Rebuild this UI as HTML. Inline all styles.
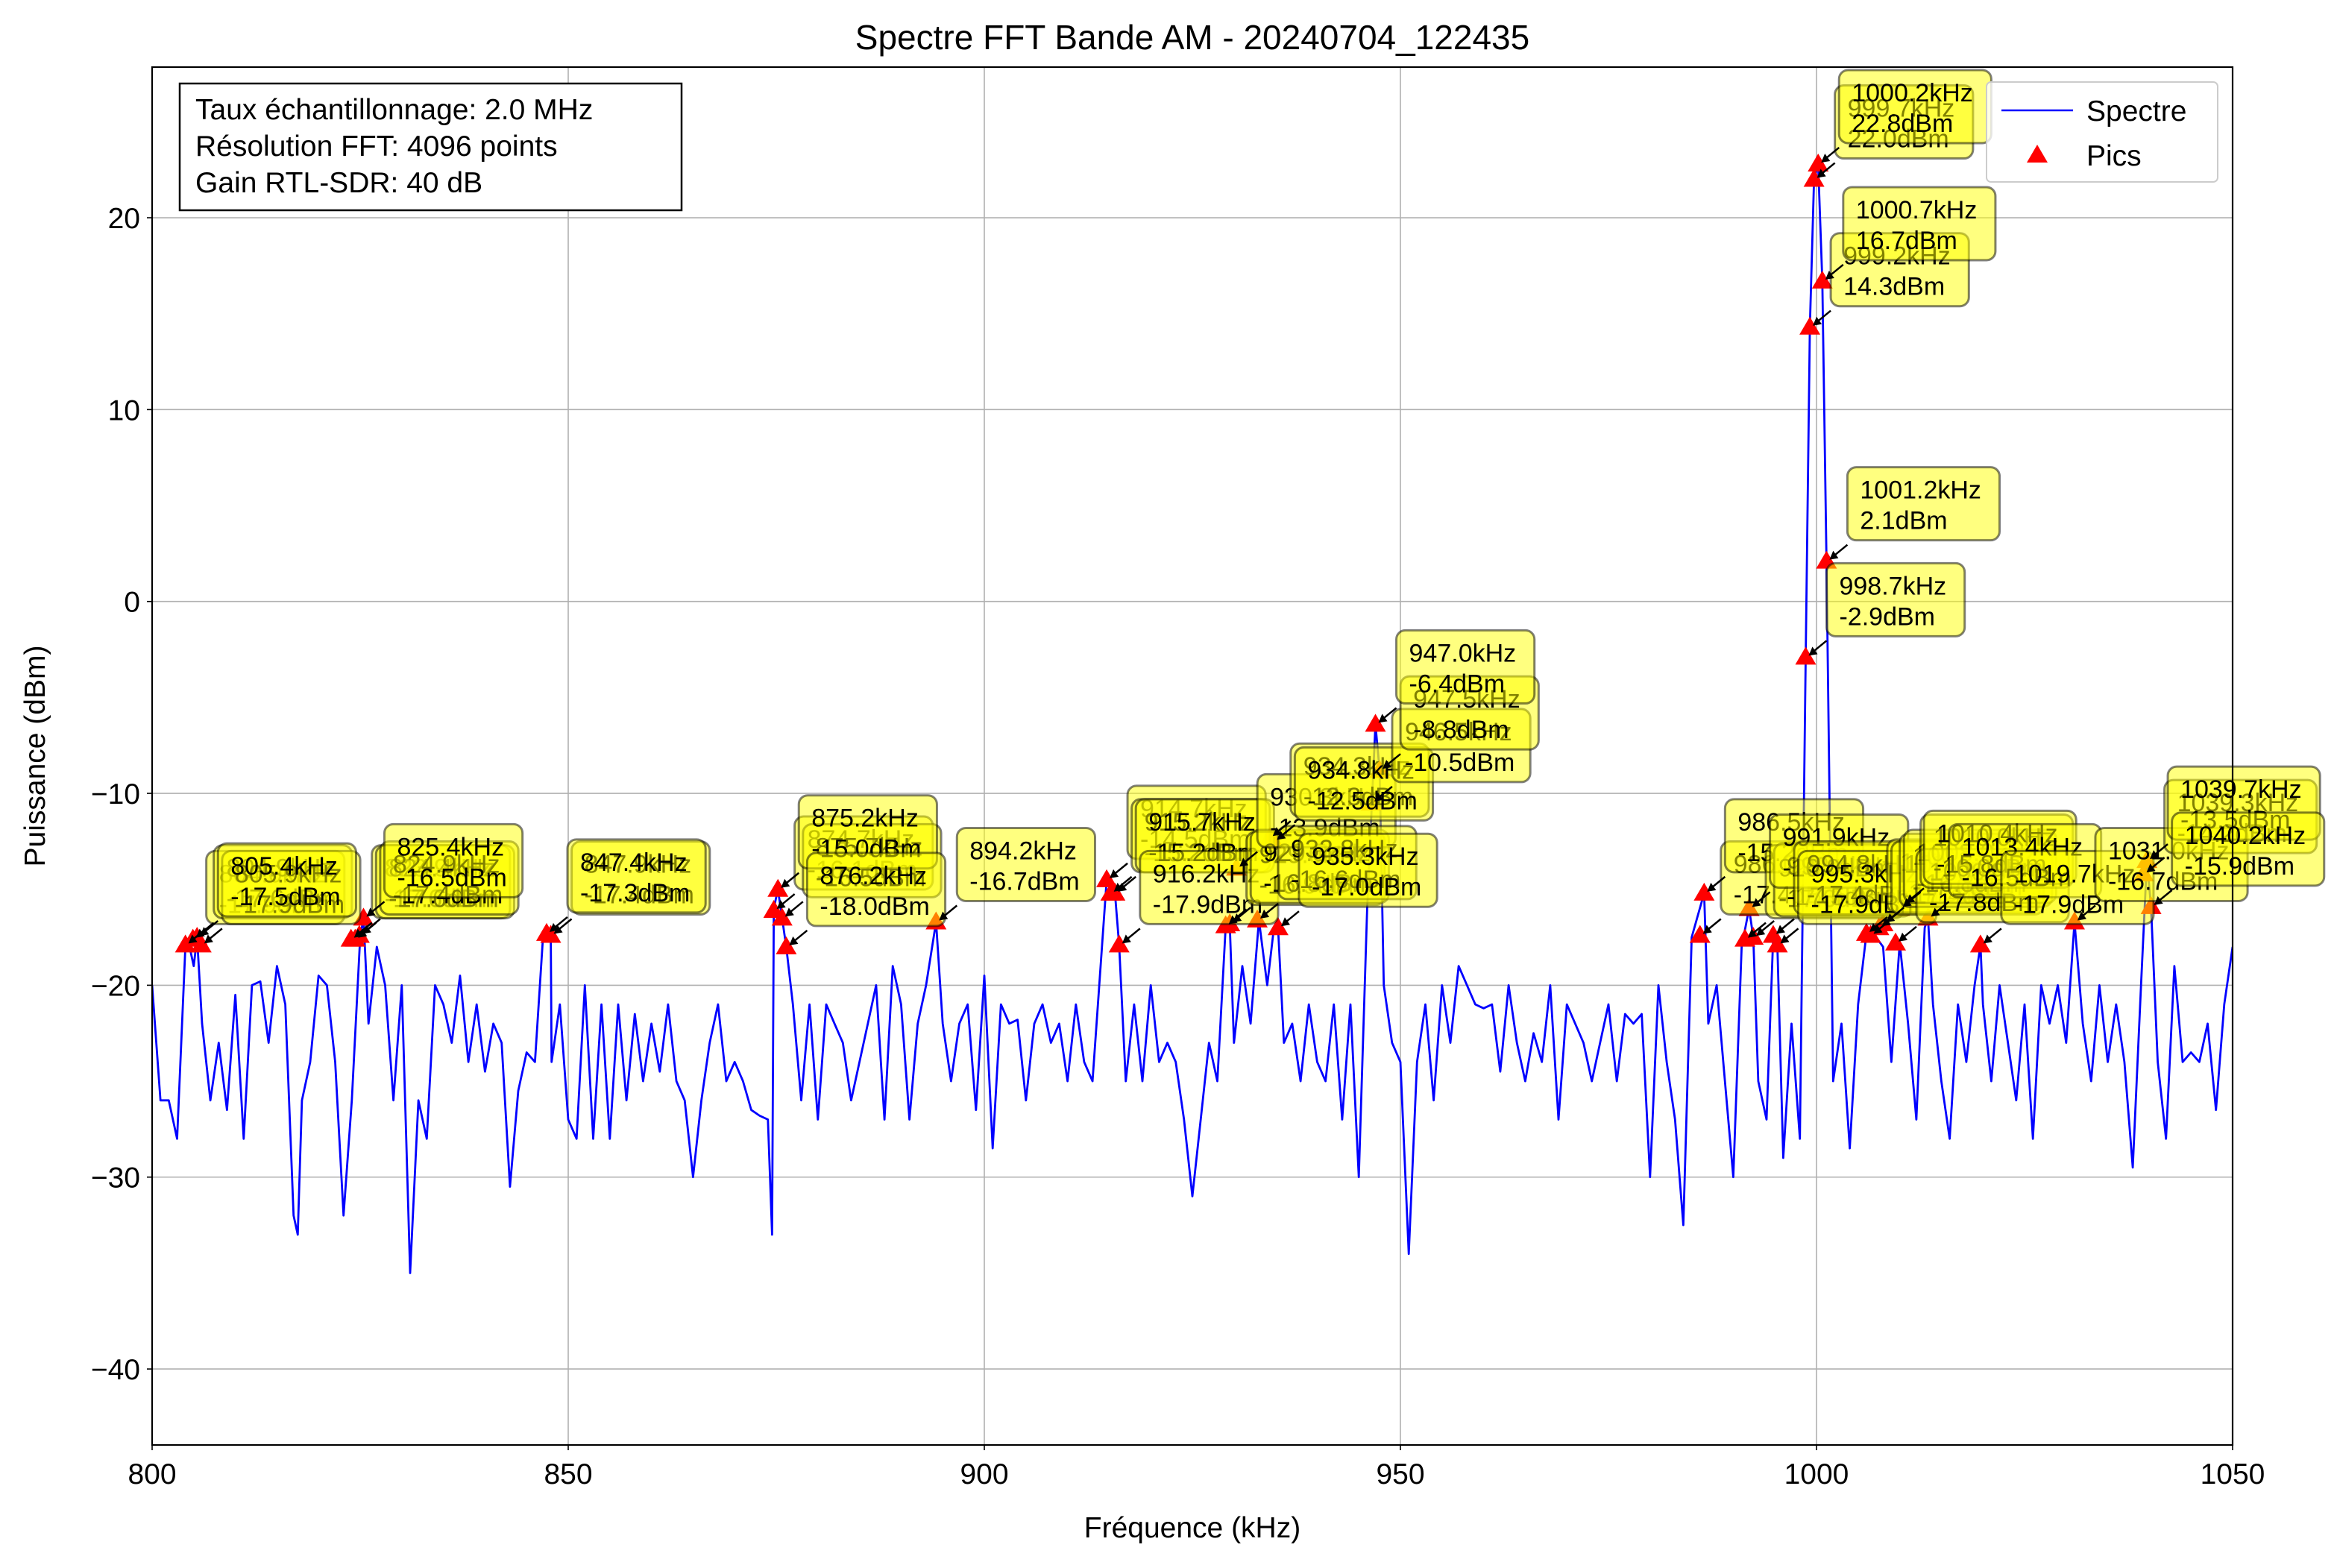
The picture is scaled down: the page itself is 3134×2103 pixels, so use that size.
<!DOCTYPE html>
<html><head><meta charset="utf-8"><style>
html,body{margin:0;padding:0;background:#fff;}
svg text{font-family:"Liberation Sans","DejaVu Sans",sans-serif;}
</style></head><body>
<svg id="chart" xmlns="http://www.w3.org/2000/svg" width="3134" height="2098" viewBox="0 0 3134 2098">
<rect x="0" y="0" width="3134" height="2098" fill="#fff"/>
<text x="1599" y="66" font-size="46" text-anchor="middle">Spectre FFT Bande AM - 20240704_122435</text>
<g id="grid"></g>
<g id="series"></g>
<g id="annots"></g>
<rect x="204" y="90" width="2790" height="1848" fill="none" stroke="#000" stroke-width="2.2"/>
<g id="axes"></g>
<text x="1599" y="2062" font-size="39" text-anchor="middle">Fréquence (kHz)</text>
<text x="0" y="0" font-size="39" text-anchor="middle" transform="translate(60,1014) rotate(-90)">Puissance (dBm)</text>
<g>
<rect x="241" y="112" width="673" height="170" fill="#fff" stroke="#000" stroke-width="2.5"/>
<text x="262" y="160" font-size="39">Taux échantillonnage: 2.0 MHz</text>
<text x="262" y="209" font-size="39">Résolution FFT: 4096 points</text>
<text x="262" y="258" font-size="39">Gain RTL-SDR: 40 dB</text>
</g>
<g>
<rect x="2664" y="110" width="310" height="134" rx="6" fill="#fff" fill-opacity="0.8" stroke="#ccc" stroke-width="2"/>
<line x1="2684" y1="148" x2="2780" y2="148" stroke="#0000ff" stroke-width="2.5"/>
<text x="2798" y="162" font-size="39">Spectre</text>
<polygon points="2732,194 2746,218 2718,218" fill="#ff0000"/>
<text x="2798" y="222" font-size="39">Pics</text>
</g>
</svg>
<script>
const freqs=[800,801,802,803,804,804.5,805,805.4,806,807,808,809,810,811,812,813,814,815,816,817,817.5,818,819,820,821,822,823,824,825,825.4,826,827,828,829,830,831,832,833,834,835,836,837,838,839,840,841,842,843,844,845,846,847,847.9,848,849,850,851,852,853,854,855,856,857,858,859,860,861,862,863,864,865,866,867,868,869,870,871,872,873,874,874.5,874.7,875.2,875.7,876.2,877,878,879,880,881,882,883,884,885,886,887,888,889,890,891,892,893,894.2,895,896,897,898,899,900,901,902,903,904,905,906,907,908,909,910,911,912,913,914.7,915.2,915.7,916.2,917,918,919,920,921,922,923,924,925,926,927,928,929,929.5,930,931,932,933,934,934.8,935.3,936,937,938,939,940,941,942,943,944,945,946,947,947.5,948,949,950,951,952,953,954,955,956,957,958,959,960,961,962,963,964,965,966,967,968,969,970,971,972,973,974,975,976,977,978,979,980,981,982,983,984,985,986.5,987,988,989,990,991,991.9,992.4,993,994,994.8,995.3,996,997,998,998.7,999.2,999.7,1000.2,1000.7,1001.2,1002,1003,1004,1005,1006,1007,1008,1009,1010,1011,1012,1013,1013.4,1014,1015,1016,1017,1018,1019,1019.7,1020,1021,1022,1023,1024,1025,1026,1027,1028,1029,1030,1031,1032,1033,1034,1035,1036,1037,1038,1039,1039.7,1040.2,1041,1042,1043,1044,1045,1046,1047,1048,1049,1050];
const power=[-20,-26,-26,-28,-18,-18,-19,-17.5,-22,-26,-23,-26.5,-20.5,-28,-20,-19.8,-23,-19,-21,-32,-33,-26,-24,-19.5,-20,-24,-32,-26,-17.5,-16.5,-22,-18,-20,-26,-20,-35,-26,-28,-20,-21,-23,-19.5,-24,-21,-24.5,-22,-23,-30.5,-25.5,-23.5,-24,-17.3,-17.4,-24,-21,-27,-28,-20,-28,-21,-28,-21,-26,-21.5,-25,-22,-24.5,-21,-25,-26,-30,-26,-23,-21,-25,-24,-25,-26.5,-26.8,-27,-33,-16,-15,-16.5,-18,-21,-26,-21,-27,-21,-22,-23,-26,-24,-22,-20,-27,-19,-21,-27,-22,-20,-16.7,-22,-25,-22,-21,-26.5,-19.5,-28.5,-21,-22,-21.8,-26,-22,-21,-23,-22,-25,-21,-24,-25,-14.5,-15,-15.2,-17.9,-25,-21,-25,-20,-24,-23,-24,-27,-31,-27,-23,-25,-17,-16.9,-23,-19,-22,-16.6,-20,-17,-17,-23,-22,-25,-21,-24,-25,-21,-27,-21,-30,-16,-6.4,-8.8,-20,-23,-24,-34,-24,-21,-26,-20,-23,-19,-20,-21,-21.2,-21,-24.5,-20,-23,-25,-22.5,-24,-20,-27,-21,-22,-23,-25,-23,-21,-25,-21.5,-22,-21.5,-30,-20,-24,-27,-32.5,-17.5,-15.2,-22,-20,-25,-30,-18,-16,-17.5,-25,-27,-17.4,-17.9,-29,-22,-28,-2.9,14.3,22.0,22.8,16.7,2.1,-25,-22,-28.5,-21,-17.3,-17.4,-18,-24,-17.8,-22,-27,-17,-16.5,-21,-25,-28,-21,-24,-20,-17.9,-21,-25,-20,-23,-26,-21,-28,-20,-22,-20,-23,-16.7,-22,-25,-20,-24,-21,-24,-29.5,-20,-13.5,-15.9,-24,-28,-19,-24,-23.5,-24,-22,-26.5,-21,-18];
const peakFreq=[804.0,804.9,805.9,805.4,823.9,824.4,824.9,825.4,847.9,847.4,874.7,875.7,875.2,876.2,894.2,914.7,915.2,915.7,916.2,929.0,929.5,930.3,932.8,934.3,934.8,935.3,946.5,947.5,947.0,986.0,986.5,991.4,992.4,991.9,994.8,995.3,998.7,999.2,999.7,1000.2,1000.7,1001.2,1006.0,1006.5,1007.5,1008.0,1009.5,1010.0,1010.4,1013.4,1019.7,1031.0,1039.3,1039.7,1040.2];
const peakVal=[-17.9,-17.6,-17.9,-17.5,-17.6,-17.6,-17.4,-16.5,-17.4,-17.3,-16.1,-16.5,-15.0,-18.0,-16.7,-14.5,-15.2,-15.2,-17.9,-16.9,-16.8,-13.9,-16.6,-12.3,-12.5,-17.0,-10.5,-8.8,-6.4,-17.4,-15.2,-17.6,-17.5,-16.0,-17.4,-17.9,-2.9,14.3,22.0,22.8,16.7,2.1,-17.3,-17.4,-17.0,-16.8,-17.8,-16.0,-15.8,-16.5,-17.9,-16.7,-14.2,-13.5,-15.9];
const xTicks=[800,850,900,950,1000,1050];
const yTicks=[20,10,0,-10,-20,-30,-40];

const X0=204,X1=2994,Y0=90,Y1=1938,XMIN=800,XMAX=1050,YMIN=-43.96,YMAX=27.85;
const NS='http://www.w3.org/2000/svg';
function sx(f){return X0+(f-XMIN)/(XMAX-XMIN)*(X1-X0);}
function sy(v){return Y0+(YMAX-v)/(YMAX-YMIN)*(Y1-Y0);}
function mk(tag,attrs,parent){const e=document.createElementNS(NS,tag);for(const k in attrs)e.setAttribute(k,attrs[k]);parent.appendChild(e);return e;}
const grid=document.getElementById('grid'),axes=document.getElementById('axes'),series=document.getElementById('series'),ann=document.getElementById('annots');
xTicks.forEach(t=>{
  const x=sx(t);
  const g=mk('line',{x1:x,y1:Y0,x2:x,y2:Y1,stroke:'#b0b0b0','stroke-width':1.6},grid);
  
  
  const tk=mk('line',{x1:x,y1:Y1,x2:x,y2:Y1+7,stroke:'#000','stroke-width':1.6},axes);
  
  
  const tx=mk('text',{x:x,y:Y1+52,'font-size':39,'text-anchor':'middle'},axes);
  tx.textContent=String(t);
  
  
});
yTicks.forEach(t=>{
  const y=sy(t);
  const g=mk('line',{x1:X0,y1:y,x2:X1,y2:y,stroke:'#b0b0b0','stroke-width':1.6},grid);
  
  
  const tk=mk('line',{x1:X0-7,y1:y,x2:X0,y2:y,stroke:'#000','stroke-width':1.6},axes);
  
  
  const tx=mk('text',{x:X0-16,y:y+14,'font-size':39,'text-anchor':'end'},axes);
  tx.textContent=(t<0?'\u2212':'')+Math.abs(t);
  
  
});
const clip=mk('clipPath',{id:'pc'},document.getElementById('chart'));
mk('rect',{x:X0,y:Y0,width:X1-X0,height:Y1-Y0},clip);
series.setAttribute('clip-path','url(#pc)');
const pts=freqs.map((f,i)=>sx(f).toFixed(1)+','+sy(power[i]).toFixed(1)).join(' ');
const line=mk('polyline',{points:pts,fill:'none',stroke:'#0000ff','stroke-width':2.8,'stroke-linejoin':'round'},series);


peakFreq.forEach((f,i)=>{
  const x=sx(f),y=sy(peakVal[i]);
  const m=mk('polygon',{points:`${x},${y-14} ${x+14},${y+10} ${x-14},${y+10}`,fill:'#ff0000'},series);
  
  
});
peakFreq.forEach((f,i)=>{
  const x=sx(f),y=sy(peakVal[i]);
  const g=mk('g',{},ann);
  
  
  const l1=f.toFixed(1)+'kHz',l2=peakVal[i].toFixed(1)+'dBm';
  const w=Math.max(l1.length,l2.length)*0.556*34+34;
  const bx=x+28,by=y-28-98;
  mk('line',{x1:bx,y1:y-22,x2:x+6,y2:y-4,stroke:'#000','stroke-width':2.5},g);
  mk('polygon',{points:`${x+4},${y-2} ${x+16},${y-4} ${x+9},${y-14}`,fill:'#000'},g);
  mk('rect',{x:bx,y:by,width:w,height:98,rx:12,fill:'#ffff00','fill-opacity':0.5,stroke:'#000','stroke-opacity':0.5,'stroke-width':3},g);
  const t1=mk('text',{x:bx+17,y:by+42,'font-size':34},g);
  t1.textContent=l1;
  const t2=mk('text',{x:bx+17,y:by+83,'font-size':34},g);
  t2.textContent=l2;
});
</script>
</body></html>
